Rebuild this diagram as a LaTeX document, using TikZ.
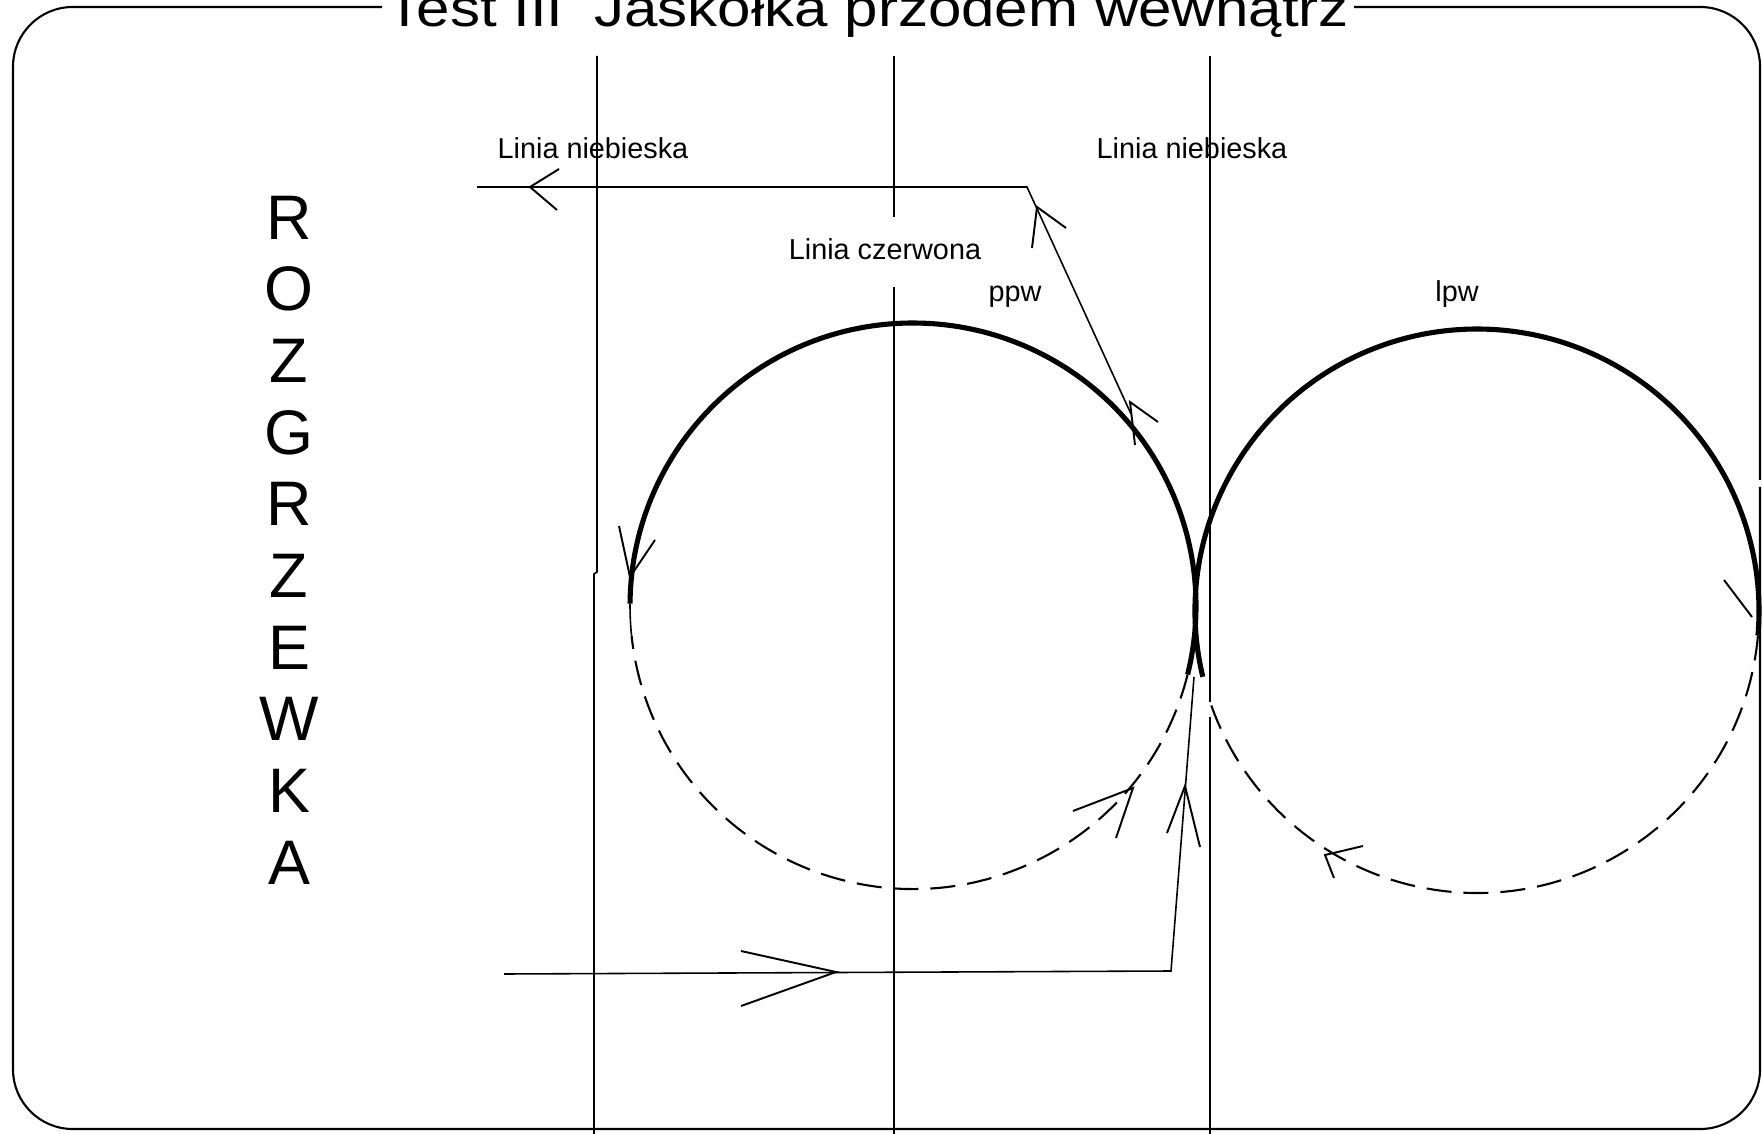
\documentclass[tikz,border=0pt]{standalone}
\usepackage{fontspec}
\setmainfont{Liberation Sans}
\usepackage{graphicx}
\begin{document}
\begin{tikzpicture}[x=0.1mm,y=-0.1mm,
  ln/.style={line width=0.45pt},
  arm/.style={line width=0.55pt},
  thk/.style={line width=1.45pt},
  dsh/.style={line width=0.6pt, dash pattern=on 2.5mm off 1.2mm},
  frm/.style={line width=0.6pt},
  lbl/.style={font=\fontsize{8.2pt}{10pt}\selectfont, inner sep=0pt},
  big/.style={font=\fontsize{17.9pt}{20.4pt}\selectfont, inner sep=0pt, align=center},
]
\useasboundingbox (0,0) rectangle (1762,1134);
\fill[white] (0,0) rectangle (1762,1134);

% frame
\draw[frm, rounded corners=17] (382,7) -- (13,7) -- (13,1129) -- (1760,1129) -- (1760,487);
\draw[frm, rounded corners=17] (1760,480) -- (1760,7) -- (1354,7);

% title
\node[anchor=base west, inner sep=0pt] (title) at (386,27)
  {\scalebox{1.14}[1]{\fontsize{15pt}{18pt}\selectfont Test III\hspace{1.2mm} Jaskółka przodem wewnątrz}};

% vertical lines
\draw[ln] (597,56) -- (597,572) -- (594,574) -- (594,1134);
\draw[ln] (894,56) -- (894,217);
\draw[ln] (894,287) -- (894,1134);
\draw[ln] (1210,56) -- (1210,702);
\draw[ln] (1210,717) -- (1210,1134);

% labels
\node[lbl] (ln1) at (593,148) {Linia niebieska};
\node[lbl] (ln2) at (1192,148) {Linia niebieska};
\node[lbl] (lc) at (885,249) {Linia czerwona};
\node[lbl] (ppw) at (1015,297) {ppw};
\node[lbl] (lpw) at (1457,294) {lpw};
\node[big] (rozg) at (289,540) {R\\O\\Z\\G\\R\\Z\\E\\W\\K\\A};

% circles
\coordinate (Lc) at (913,606);
\coordinate (Rc) at (1477,611);
\draw[thk] ([shift={(180.5:283)}]Lc) arc[start angle=180.5, end angle=374, radius=283];
\draw[ln] ([shift={(174:283)}]Lc) arc[start angle=174, end angle=180.5, radius=283];
\draw[dsh] ([shift={(14:283)}]Lc) arc[start angle=14, end angle=174, radius=283];
\draw[thk] ([shift={(166.5:282)}]Rc) arc[start angle=166.5, end angle=365, radius=282];
\draw[dsh] ([shift={(5:282)}]Rc) arc[start angle=5, end angle=161.6, radius=282];

% paths
\coordinate (bs) at (504,974);
\coordinate (bc) at (1171,971);
\coordinate (jn) at (1194,677);
\draw[ln] (bs) -- (bc) -- (jn);
\coordinate (ds) at (1131,414);
\coordinate (tc) at (1027,187);
\coordinate (te) at (477,187);
\draw[ln] (ds) -- (tc) -- (te);

% arrowheads (open V)
\draw[arm] (559,169) -- (530,187) -- (557,210);
\draw[arm] (1066,228) -- (1037,207) -- (1032,248);
\draw[arm] (1158,422) -- (1130,402) -- (1135,445);
\draw[arm] (619,526) -- (630,577) -- (655,540);
\draw[arm] (1073,811) -- (1133,788) -- (1116,838);
\draw[arm] (741,951) -- (836,972) -- (741,1006);
\draw[arm] (1167,833) -- (1185,786) -- (1200,847);
\draw[arm] (1724,580) -- (1752,617);
\draw[arm] (1363,846) -- (1325,855) -- (1334,878);
\end{tikzpicture}
\end{document}
